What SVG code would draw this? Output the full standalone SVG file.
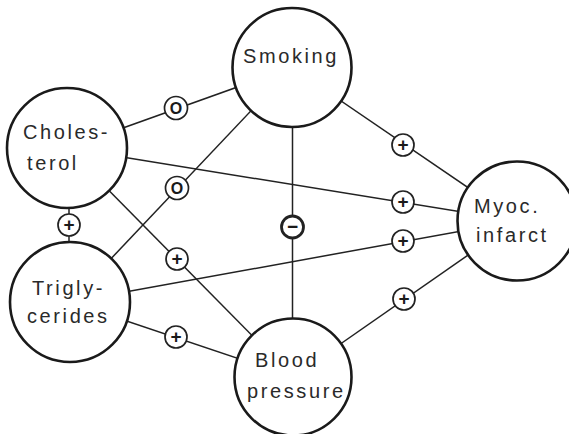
<svg xmlns="http://www.w3.org/2000/svg" width="569" height="434" viewBox="0 0 569 434">
<style>
.node{fill:#fff;stroke:#1a1a1a;stroke-width:2.6}
.lbl{font-family:"Liberation Sans",Arial,sans-serif;font-size:20px;letter-spacing:2.6px;fill:#2a2a2a}
.edge{stroke:#222;stroke-width:1.5;fill:none}
.badge{fill:#fff;stroke:#222;stroke-width:1.7}
.badge.neg{stroke-width:2.8}
.sym{font-family:"Liberation Sans",Arial,sans-serif;font-weight:bold;font-size:19px;fill:#1a1a1a;text-anchor:middle;dominant-baseline:central}
.o{font-family:"Liberation Sans",Arial,sans-serif;font-weight:bold;font-size:16px;fill:#1a1a1a;text-anchor:middle;dominant-baseline:central}
</style>
<rect width="569" height="434" fill="#fff"/>
<g id="connectors">
<line class="edge" x1="67" y1="148" x2="292" y2="67.5"/>
<line class="edge" x1="292" y1="67.5" x2="70" y2="302"/>
<line class="edge" x1="69" y1="148" x2="69" y2="302"/>
<line class="edge" x1="67" y1="148" x2="293" y2="377"/>
<line class="edge" x1="70" y1="302" x2="293" y2="377"/>
<line class="edge" x1="292.5" y1="67.5" x2="292.5" y2="377"/>
<line class="edge" x1="292" y1="67.5" x2="517" y2="221"/>
<line class="edge" x1="67" y1="148" x2="517" y2="221"/>
<line class="edge" x1="70" y1="302" x2="517" y2="221"/>
<line class="edge" x1="293" y1="377" x2="517" y2="221"/>
<g id="badges">
<circle class="badge" cx="176" cy="108" r="11.5"/><text class="o" x="176" y="108">O</text>
<circle class="badge" cx="177" cy="188" r="11.5"/><text class="o" x="177" y="188">O</text>
<circle class="badge" cx="69" cy="225" r="11"/><text class="sym" x="69" y="224">+</text>
<circle class="badge" cx="177" cy="259" r="11"/><text class="sym" x="177" y="258">+</text>
<circle class="badge" cx="176" cy="337" r="11"/><text class="sym" x="176" y="336">+</text>
<circle class="badge neg" cx="292.5" cy="227" r="11"/><text class="sym" x="292.5" y="226">−</text>
<circle class="badge" cx="403" cy="145" r="11"/><text class="sym" x="403" y="144">+</text>
<circle class="badge" cx="403" cy="202" r="11"/><text class="sym" x="403" y="201">+</text>
<circle class="badge" cx="403" cy="241" r="11"/><text class="sym" x="403" y="240">+</text>
<circle class="badge" cx="404" cy="299" r="11"/><text class="sym" x="404" y="298">+</text>
</g>
</g>
<g id="smoking"><circle class="node" cx="292" cy="67.5" r="59.5"/><text class="lbl" x="243" y="63">Smoking</text></g>
<g id="cholesterol"><circle class="node" cx="67" cy="148" r="60"/><text class="lbl" x="23" y="139">Choles-</text><text class="lbl" x="27" y="170">terol</text></g>
<g id="triglycerides"><circle class="node" cx="70" cy="302" r="60"/><text class="lbl" x="32" y="295">Trigly-</text><text class="lbl" x="27" y="323">cerides</text></g>
<g id="blood-pressure"><circle class="node" cx="293" cy="377" r="58.5"/><text class="lbl" x="255" y="367">Blood</text><text class="lbl" x="247" y="398">pressure</text></g>
<g id="myoc-infarct"><circle class="node" cx="517" cy="221" r="59.5"/><text class="lbl" x="474" y="213">Myoc.</text><text class="lbl" x="476" y="242">infarct</text></g>
</svg>
